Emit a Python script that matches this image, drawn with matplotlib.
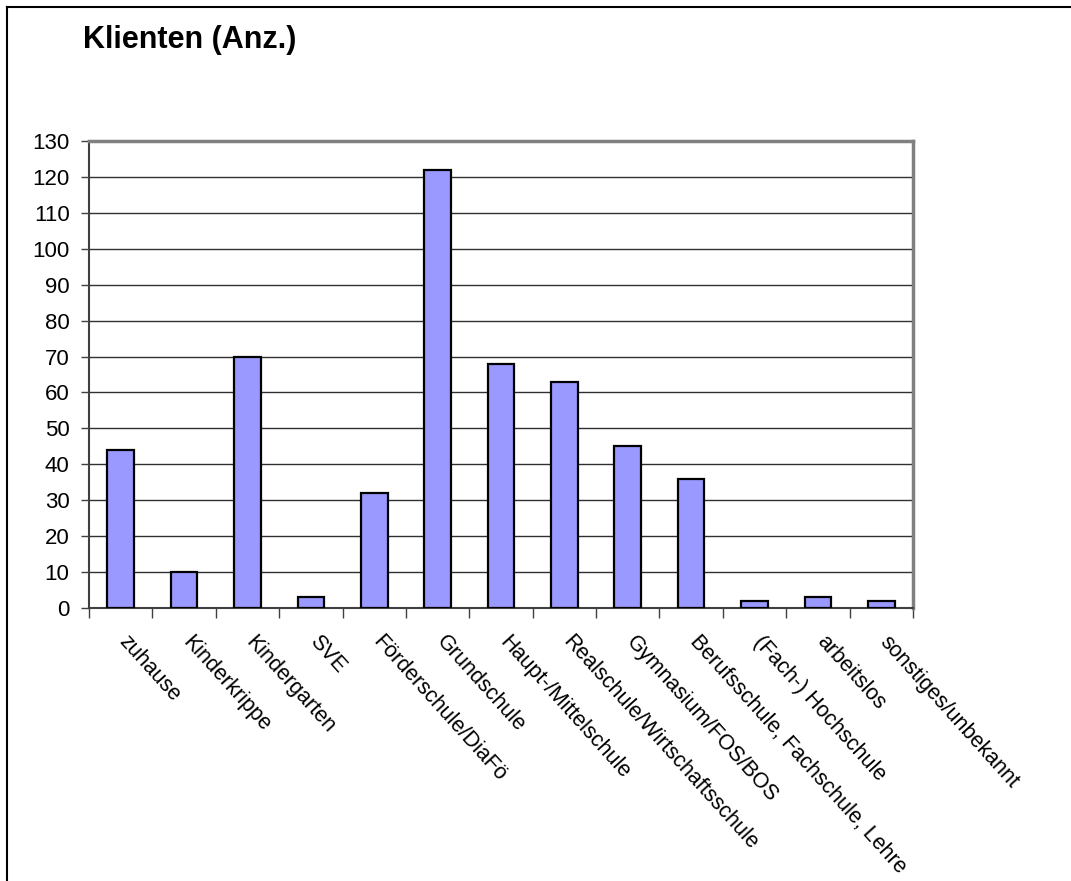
import matplotlib.pyplot as plt
import matplotlib.lines as mlines
import numpy as np

plt.rcParams['font.family'] = ['Liberation Sans', 'DejaVu Sans']

categories = ['zuhause', 'Kinderkrippe', 'Kindergarten', 'SVE',
              'Förderschule/DiaFö', 'Grundschule', 'Haupt-/Mittelschule',
              'Realschule/Wirtschaftsschule', 'Gymnasium/FOS/BOS',
              'Berufsschule, Fachschule, Lehre', '(Fach-) Hochschule',
              'arbeitslos', 'sonstiges/unbekannt']
clients = [44, 10, 70, 3, 32, 122, 68, 63, 45, 36, 2, 3, 2]
y_ticks = list(range(0, 131, 10))

fig = plt.figure(figsize=(10.71, 8.81), dpi=100)
ax = fig.add_axes([0.0831, 0.3099, 0.7694, 0.5301])

x = np.arange(len(categories))
ax.bar(x, clients, width=0.42, color='#9999FF', edgecolor='black',
       linewidth=1.6, zorder=3)

ax.set_xlim(-0.5, len(categories) - 0.5)
ax.set_ylim(0, 130)
ax.set_yticks(y_ticks)
ax.tick_params(axis='y', labelsize=16, length=6, width=1, color='#404040', pad=8)

# category ticks sit between the bars
ax.set_xticks(np.arange(len(categories) + 1) - 0.5)
ax.set_xticklabels([])
ax.tick_params(axis='x', length=7, width=1, color='#404040', direction='out')

for i, name in enumerate(categories):
    ax.text(i + 0.03, -8.5, name, rotation=-48, rotation_mode='anchor',
            ha='left', va='center', fontsize=15.5)

ax.yaxis.grid(True, color='#303030', linewidth=1)
ax.set_axisbelow(True)

ax.spines['left'].set_color('#404040')
ax.spines['left'].set_linewidth(1.5)
ax.spines['bottom'].set_color('#404040')
ax.spines['bottom'].set_linewidth(1.5)
for side in ('top', 'right'):
    ax.spines[side].set_color('#808080')
    ax.spines[side].set_linewidth(2.5)

fig.text(0.0775, 0.955, 'Klienten (Anz.)', fontsize=22, fontweight='bold',
         va='center', ha='left')

# outer chart frame (top and left edges)
fig.add_artist(mlines.Line2D([0.0065, 1.0], [0.992, 0.992], color='black',
                             linewidth=1.5, transform=fig.transFigure))
fig.add_artist(mlines.Line2D([0.0065, 0.0065], [0.0, 0.992], color='black',
                             linewidth=1.5, transform=fig.transFigure))

fig.savefig('out.png', dpi=100)
